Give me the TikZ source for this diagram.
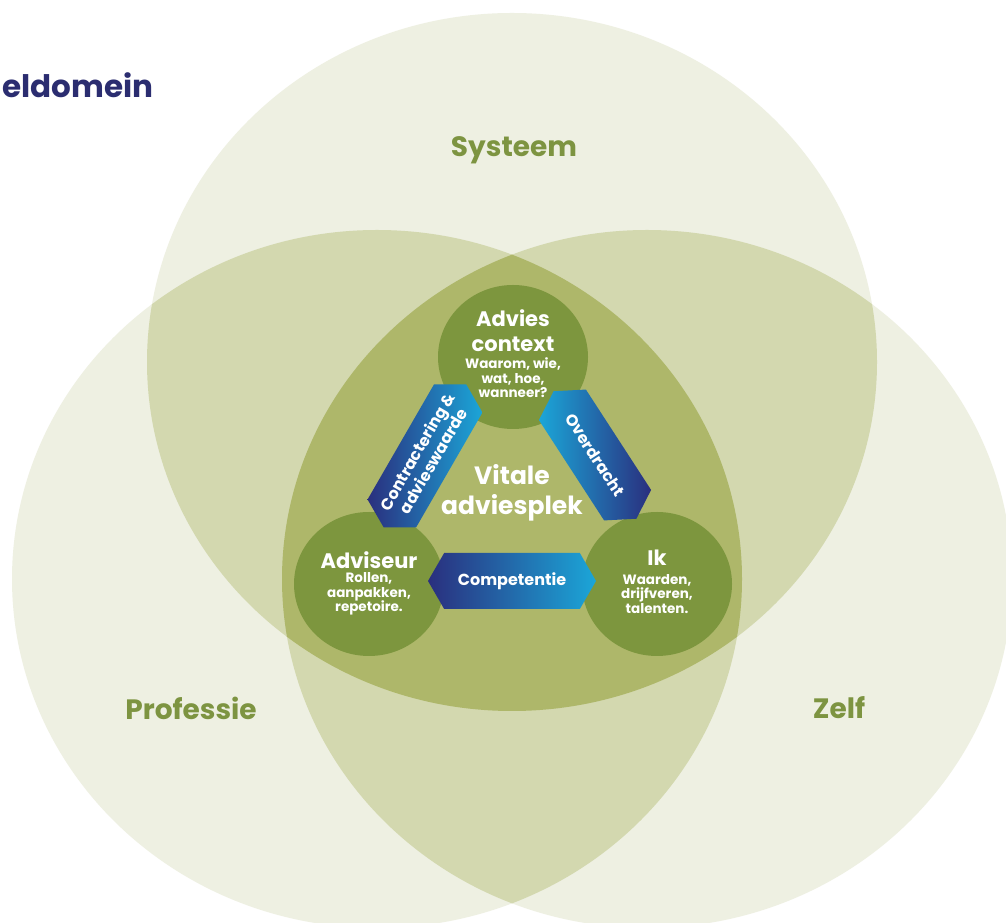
\documentclass[tikz,border=0pt]{standalone}
\usepackage{fontspec}
\setmainfont{Poppins}
\usetikzlibrary{shapes.geometric,shapes.symbols}
\definecolor{venn}{HTML}{EEF0E2}
\definecolor{venntwo}{HTML}{D3D8AF}
\definecolor{vennthree}{HTML}{AEB76A}
\definecolor{leaf}{HTML}{7D963E}
\definecolor{olive}{HTML}{7D9441}
\definecolor{navy}{HTML}{2A2F7E}
\definecolor{sky}{HTML}{1BA6D8}
\definecolor{titleblue}{HTML}{2B2D70}
\newcommand{\smalltxt}{\fontsize{13.5}{14.5}\selectfont}
\tikzset{
  bigring/.style={x radius=365pt, y radius=349pt},
  areaname/.style={text=olive, font=\bfseries\fontsize{28}{30}\selectfont},
  hubnode/.style={ellipse, fill=leaf, minimum width=150pt, minimum height=144pt, inner sep=0pt},
  hubtitle/.style={text=white, align=center, inner sep=0pt, font=\bfseries\fontsize{21}{25}\selectfont},
  hubtext/.style={text=white, align=center, inner sep=0pt, font=\bfseries\smalltxt},
  barlink/.style={signal, signal from=nowhere, signal to=east and west, signal pointer angle=120,
    minimum width=168pt, minimum height=56pt, inner sep=0pt, text=white, align=center,
    font=\bfseries\fontsize{16}{18.5}\selectfont},
}
\begin{document}
\begin{tikzpicture}[x=1pt,y=1pt]
  \useasboundingbox (0,0) rectangle (1006,923);
  \fill[white] (0,0) rectangle (1006,923);
  \coordinate (S) at (512,561);
  \coordinate (P) at (377,344);
  \coordinate (Z) at (647,344);
  \fill[venn, bigring] (S) ellipse [];
  \fill[venn, bigring] (P) ellipse [];
  \fill[venn, bigring] (Z) ellipse [];
  \begin{scope}
    \clip[bigring] (S) ellipse [];
    \fill[venntwo, bigring] (P) ellipse [];
    \fill[venntwo, bigring] (Z) ellipse [];
  \end{scope}
  \begin{scope}
    \clip[bigring] (P) ellipse [];
    \fill[venntwo, bigring] (Z) ellipse [];
    \clip[bigring] (S) ellipse [];
    \fill[vennthree, bigring] (Z) ellipse [];
  \end{scope}

  \node[anchor=west, text=titleblue, font=\bfseries\fontsize{31}{33}\selectfont] (title) at (-1,838) {eldomein};
  \node[areaname] (systeem) at (514,773) {Systeem};
  \node[areaname] (professie) at (191,215) {Professie};
  \node[areaname] (zelf) at (839,215) {Zelf};

  \node[hubnode] (advies) at (513,566) {};
  \node[hubnode] (adviseur) at (369,339) {};
  \node[hubnode] (ik) at (657,339) {};

  \node[barlink, left color=navy, middle color=navy!80!sky, right color=sky] (competentie) at (512,342) {Competentie};
  \node[barlink, rotate=60, minimum width=152pt, left color=navy, middle color=navy!80!sky, right color=sky] (contract) at (425,467) {Contractering \&\\advieswaarde};
  \node[barlink, rotate=-57, minimum width=152pt, left color=sky, middle color=navy!80!sky, right color=navy] (overdracht) at (595,468) {Overdracht};

  \node[hubtitle] (adviestitle) at ([yshift=26pt]advies.center) {Advies\\context};
  \node[hubtext] (adviestext) at ([yshift=-21pt]advies.center) {Waarom, wie,\\wat, hoe,\\wanneer?};
  \node[hubtitle] (adviseurtitle) at ([yshift=24pt]adviseur.center) {Adviseur};
  \node[hubtext] (adviseurtext) at ([yshift=-10pt]adviseur.center) {Rollen,\\aanpakken,\\repetoire.};
  \node[hubtitle] (iktitle) at ([yshift=26pt]ik.center) {Ik};
  \node[hubtext] (iktext) at ([yshift=-10pt]ik.center) {Waarden,\\drijfveren,\\talenten.};

  \node[text=white, align=center, font=\bfseries\fontsize{25}{30}\selectfont] (vitale) at (512,430) {Vitale\\adviesplek};
\end{tikzpicture}
\end{document}
